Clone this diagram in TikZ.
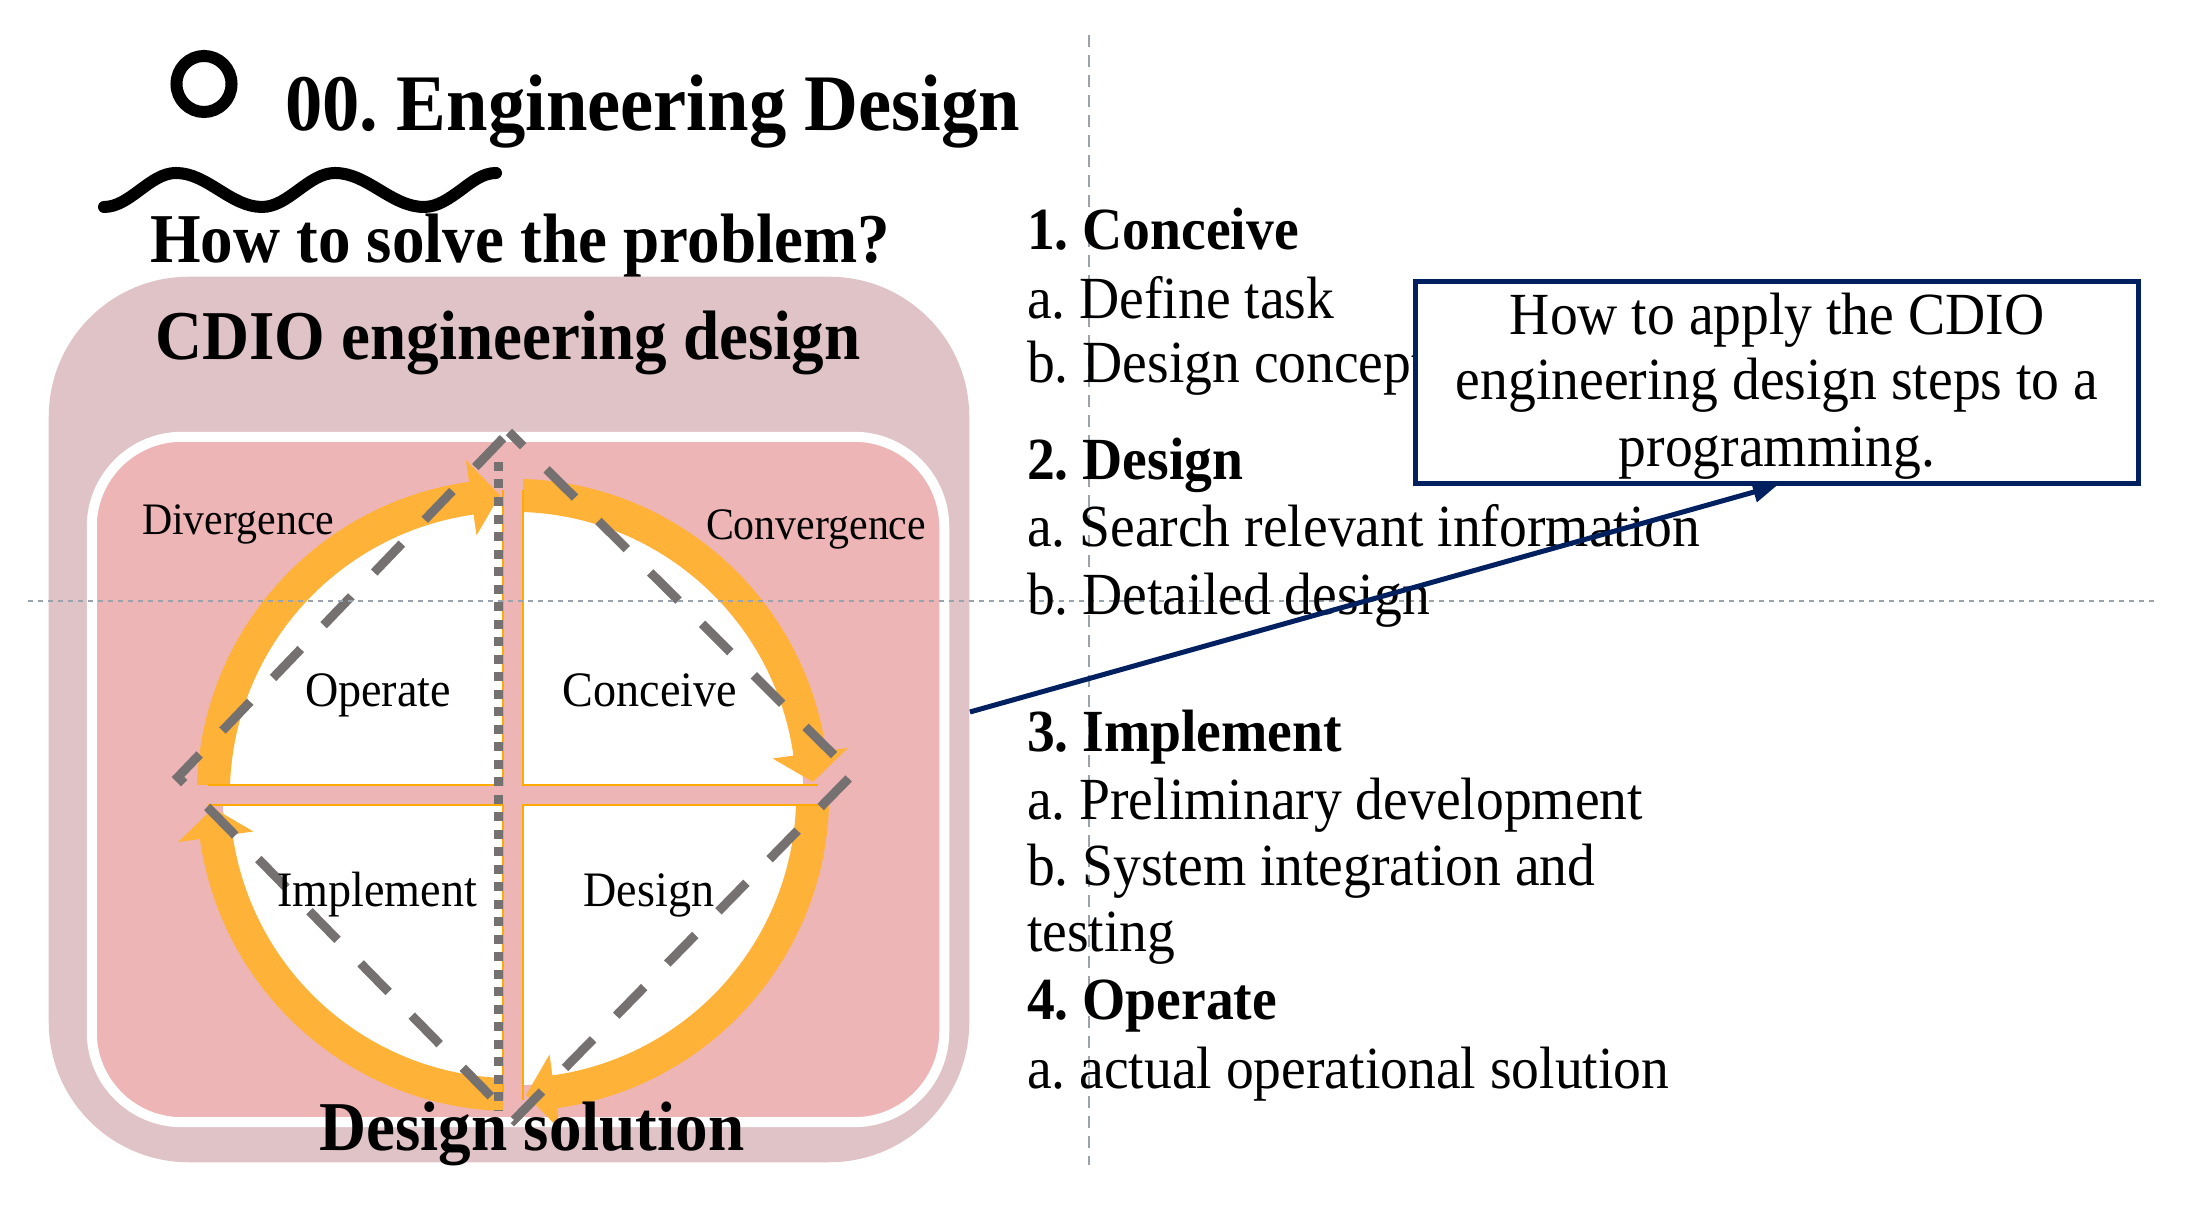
\documentclass[tikz,border=0pt]{standalone}
\usepackage{fontspec}
\setmainfont{Liberation Serif}[FakeStretch=0.93]
\usetikzlibrary{arrows.meta,calc}
\frenchspacing
\definecolor{outerc}{HTML}{E0C3C6}
\definecolor{innerc}{HTML}{EDB5B5}
\definecolor{ringc}{HTML}{FFB238}
\definecolor{edgec}{HTML}{FFAA00}
\definecolor{dashc}{HTML}{767171}
\definecolor{navyc}{HTML}{002060}
\definecolor{guidec}{HTML}{9AA3AC}
\newcommand\ringarrow[3]{%
  \fill[ringc] ($(C)+(#1:3.16cm)$) arc[start angle=#1,end angle=#2,radius=3.16cm]
    -- ($(C)+(#2:3.38cm)$) -- ($(C)+(#3:3.0cm)$) -- ($(C)+(#2:2.62cm)$)
    -- ($(C)+(#2:2.83cm)$) arc[start angle=#2,end angle=#1,radius=2.83cm] -- cycle;}
\tikzset{
  lbl/.style={inner sep=0pt, outer sep=0pt, text=black},
  titlef/.style={lbl, font=\fontsize{22.8pt}{27pt}\selectfont\bfseries\frenchspacing},
  headf/.style={lbl, font=\fontsize{19.9pt}{24pt}\selectfont\bfseries\frenchspacing},
  listf/.style={lbl, anchor=base west, font=\fontsize{17pt}{20pt}\selectfont\frenchspacing},
  listb/.style={lbl, anchor=base west, font=\fontsize{17pt}{20pt}\selectfont\bfseries\frenchspacing},
  quadf/.style={lbl, anchor=base, font=\fontsize{14.1pt}{17pt}\selectfont},
  smallf/.style={lbl, anchor=base west, font=\fontsize{12.8pt}{15pt}\selectfont},
  callf/.style={lbl, anchor=base, font=\fontsize{17pt}{20pt}\selectfont\frenchspacing},
  outerbox/.style={fill=outerc, rounded corners=1.4cm, minimum width=9.2cm, minimum height=8.85cm, inner sep=0pt},
  innerbox/.style={fill=innerc, draw=white, line width=0.1cm, rounded corners=0.9cm, minimum width=8.52cm, minimum height=6.85cm, inner sep=0pt},
  calloutbox/.style={fill=white, draw=navyc, line width=0.05cm, minimum width=7.22cm, minimum height=2.01cm, inner sep=0pt},
  edgeline/.style={edgec, line width=0.025cm},
  guide/.style={guidec, line width=0.02cm},
}
\begin{document}
\begin{tikzpicture}[x=0.01cm,y=0.01cm]
\useasboundingbox (0,0) rectangle (2201,1213);
\fill[white] (0,0) rectangle (2201,1213);

% title area
\draw[line width=0.12cm] (204,1129) ellipse[x radius=0.275cm, y radius=0.28cm];
\node[titlef, anchor=base west] (title) at (285,1082) {00. Engineering Design};
\draw[line width=0.12cm, line cap=round] (104,1006) cos (140,1023) sin (176,1040) cos (219,1023) sin (262,1006)
  cos (298.5,1023) sin (335,1040) cos (379.5,1023) sin (424,1006) cos (461,1023) sin (496,1040);
\node[headf, anchor=base west] (howto) at (150,950.5) {How to solve the problem?};

% CDIO boxes
\node[outerbox] (outer) at (509,493.5) {};
\node[innerbox] (inner) at (518,433.5) {};

\coordinate (C) at (513,418);
\fill[white] (C) circle[radius=2.9cm];
\ringarrow{180}{98}{92.5}
\ringarrow{90}{8}{2.5}
\ringarrow{0}{-82}{-87.5}
\ringarrow{-90}{-172}{-177.5}
\fill[innerc] (503,98) rectangle (523,738);
\fill[innerc] (193,408) rectangle (833,428);
\draw[edgeline] (208,428) -- (503,428) -- (503,723);
\draw[edgeline] (818,428) -- (523,428) -- (523,723);
\draw[edgeline] (818,408) -- (523,408) -- (523,113);
\draw[edgeline] (208,408) -- (503,408) -- (503,113);
\draw[dashc, line width=0.09cm, dash pattern=on 0.09cm off 0.085cm] (498,751) -- (498,103);
\draw[dashc, line width=0.09cm, dash pattern=on 0.4cm off 0.33cm, dash phase=0.2cm] (509,781) -- (853,439) -- (514,93) -- (178,436) -- cycle;

% guides
\draw[guide, dash pattern=on 0.12cm off 0.08cm] (1089,1178) -- (1089,48);
\draw[guide, dash pattern=on 0.05cm off 0.05cm] (28,612) -- (2155,612);

\node[headf, anchor=base] (cdio) at (508,853) {CDIO engineering design};
\node[headf, anchor=base] (sol) at (532,62) {Design solution};
\node[smallf] (div) at (142,678) {Divergence};
\node[smallf] (conv) at (706,673) {Convergence};
\node[quadf] (qop) at (378,506) {Operate};
\node[quadf] (qco) at (650,506) {Conceive};
\node[quadf] (qim) at (377,306) {Implement};
\node[quadf] (qde) at (649,306) {Design};

% list
\node[listb] (l1) at (1027,963) {1. Conceive};
\node[listf] (l1a) at (1027,894) {a. Define task};
\node[listf] (l1b) at (1027,830) {b. Design concept};
\node[listb] (l2) at (1027,733) {2. Design};
\node[listf] (l2a) at (1027,666) {a. Search relevant information};
\node[listf] (l2b) at (1027,598) {b. Detailed design};
\node[listb] (l3) at (1027,461) {3. Implement};
\node[listf] (l3a) at (1027,393) {a. Preliminary development};
\node[listf] (l3b) at (1027,327) {b. System integration and};
\node[listf] (l3c) at (1027,261) {testing};
\node[listb] (l4) at (1027,193) {4. Operate};
\node[listf] (l4a) at (1027,124) {a. actual operational solution};

% callout
\node[calloutbox] (callout) at (1777,830.5) {};
\node[callf] (c1) at (1777,878) {How to apply the CDIO};
\node[callf] (c2) at (1777,813) {engineering design steps to a};
\node[callf] (c3) at (1777,746) {programming.};
\draw[navyc, line width=0.05cm, -{Triangle[length=0.24cm,width=0.2cm]}] ([yshift=0.075cm]outer.east) -- (callout.south);
\end{tikzpicture}
\end{document}
